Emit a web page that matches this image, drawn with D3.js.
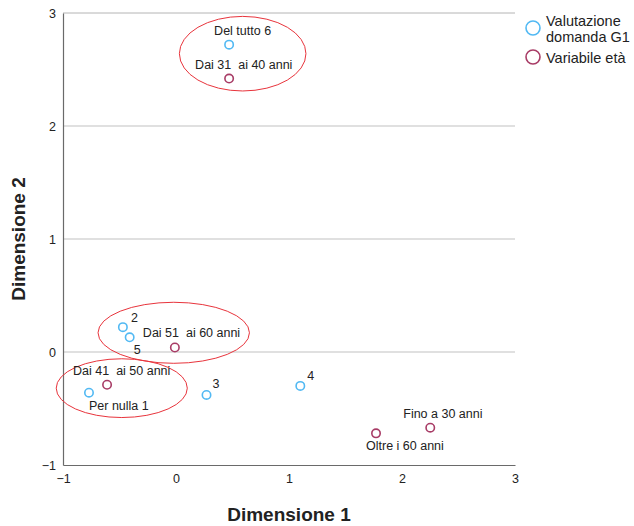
<!DOCTYPE html>
<html>
<head>
<meta charset="utf-8">
<script src="https://cdn.jsdelivr.net/npm/d3@7"></script>
<style>
    body { margin: 0; background: #fff; }
    text { font-family: Arial, "Liberation Sans", sans-serif; }
</style>
</head>
<body>
<svg id="chart" width="634" height="526"></svg>
<script>
// Data
var seriesNames = ["Valutazione domanda G1", "Variabile età"];
var g1Labels = ["Per nulla 1", "2", "3", "4", "5", "Del tutto 6"];
var g1X = [-0.77, -0.47, 0.27, 1.10, -0.41, 0.47];
var g1Y = [-0.36, 0.22, -0.38, -0.30, 0.13, 2.72];
var ageLabels = ["Fino a 30 anni", "Dai 31  ai 40 anni", "Dai 41  ai 50 anni", "Dai 51  ai 60 anni", "Oltre i 60 anni"];
var ageX = [2.25, 0.47, -0.61, -0.01, 1.77];
var ageY = [-0.67, 2.42, -0.29, 0.04, -0.72];
var xTicks = [-1, 0, 1, 2, 3];
var yTicks = [-1, 0, 1, 2, 3];
// Ellipses drawn round groups (center x, center y, radius x, radius y in data units)
var ringCx = [0.59, -0.02, -0.48];
var ringCy = [2.64, 0.17, -0.32];
var ringRx = [0.56, 0.67, 0.58];
var ringRy = [0.33, 0.27, 0.26];

// Label offsets in pixels (text start, text middle)
var g1Offsets = [[0, 13], [8, -9], [6, -11], [7, -10], [4, 13], [-15, -14]];
var ageOffsets = [[-27, -14], [-34, -14], [-34, -14], [-32, -14], [-10, 13]];

var blue = "#52b9f3";
var red = "#a83c66";

var svg = d3.select("#chart");
var x = d3.scaleLinear().domain([-1, 3]).range([63, 515]);
var y = d3.scaleLinear().domain([-1, 3]).range([465, 13]);

// Gridlines
svg.append("g").selectAll("line")
    .data(yTicks.filter(t => t > -1))
    .enter().append("line")
    .attr("x1", x(-1)).attr("x2", x(3))
    .attr("y1", d => y(d)).attr("y2", d => y(d))
    .attr("stroke", d => d == 3 ? "#b4b4b4" : "#d6d6d6")
    .attr("stroke-width", d => d == 3 ? 1 : 1.6);

// Axes
var xAxis = svg.append("g")
    .attr("transform", "translate(0," + y(-1) + ")")
    .call(d3.axisBottom(x).tickValues(xTicks).tickSize(0).tickPadding(9).tickFormat(d3.format("d")));
var yAxis = svg.append("g")
    .attr("transform", "translate(" + x(-1) + ",0)")
    .call(d3.axisLeft(y).tickValues(yTicks).tickSize(0).tickPadding(7).tickFormat(d3.format("d")));
[xAxis, yAxis].forEach(a => {
    a.select(".domain").attr("stroke", "#6a6a6a").attr("stroke-width", 1.2);
    a.selectAll("text").attr("font-size", 12.5).attr("fill", "#222")
        .attr("font-family", "Arial, 'Liberation Sans', sans-serif");
});

// Axis titles
svg.append("text")
    .attr("x", (x(-1) + x(3)) / 2).attr("y", 521)
    .attr("text-anchor", "middle")
    .attr("font-size", 19).attr("font-weight", "bold").attr("fill", "#222")
    .text("Dimensione 1");
svg.append("text")
    .attr("transform", "translate(25," + (y(-1) + y(3)) / 2 + ") rotate(-90)")
    .attr("text-anchor", "middle")
    .attr("font-size", 19).attr("font-weight", "bold").attr("fill", "#222")
    .text("Dimensione 2");

// Ellipses
svg.append("g").selectAll("ellipse")
    .data(ringCx)
    .enter().append("ellipse")
    .attr("cx", (d, i) => x(d))
    .attr("cy", (d, i) => y(ringCy[i]))
    .attr("rx", (d, i) => x(ringRx[i]) - x(0))
    .attr("ry", (d, i) => y(0) - y(ringRy[i]))
    .attr("fill", "none")
    .attr("stroke", "#e8343c")
    .attr("stroke-width", 1);

// Points and labels for one series
function drawSeries(xs, ys, labels, offsets, color) {
    var g = svg.append("g");
    g.selectAll("circle")
        .data(xs)
        .enter().append("circle")
        .attr("cx", d => x(d))
        .attr("cy", (d, i) => y(ys[i]))
        .attr("r", 4.2)
        .attr("fill", "#fff")
        .attr("stroke", color)
        .attr("stroke-width", 1.6);
    g.selectAll("text")
        .data(labels)
        .enter().append("text")
        .attr("x", (d, i) => x(xs[i]) + offsets[i][0])
        .attr("y", (d, i) => y(ys[i]) + offsets[i][1])
        .attr("dominant-baseline", "central")
        .attr("font-size", 12.5)
        .attr("fill", "#222")
        .style("white-space", "pre")
        .text(d => d);
}
drawSeries(g1X, g1Y, g1Labels, g1Offsets, blue);
drawSeries(ageX, ageY, ageLabels, ageOffsets, red);

// Legend
var legend = svg.append("g");
legend.append("circle").attr("cx", 533).attr("cy", 28).attr("r", 7)
    .attr("fill", "#fff").attr("stroke", blue).attr("stroke-width", 1.6);
legend.append("text").attr("x", 546).attr("y", 26).attr("font-size", 14.5).attr("fill", "#222")
    .text("Valutazione");
legend.append("text").attr("x", 546).attr("y", 42).attr("font-size", 14.5).attr("fill", "#222")
    .text("domanda G1");
legend.append("circle").attr("cx", 533).attr("cy", 57).attr("r", 7)
    .attr("fill", "#fff").attr("stroke", red).attr("stroke-width", 1.6);
legend.append("text").attr("x", 546).attr("y", 63).attr("font-size", 14.5).attr("fill", "#222")
    .text(seriesNames[1]);
</script>
</body>
</html>
